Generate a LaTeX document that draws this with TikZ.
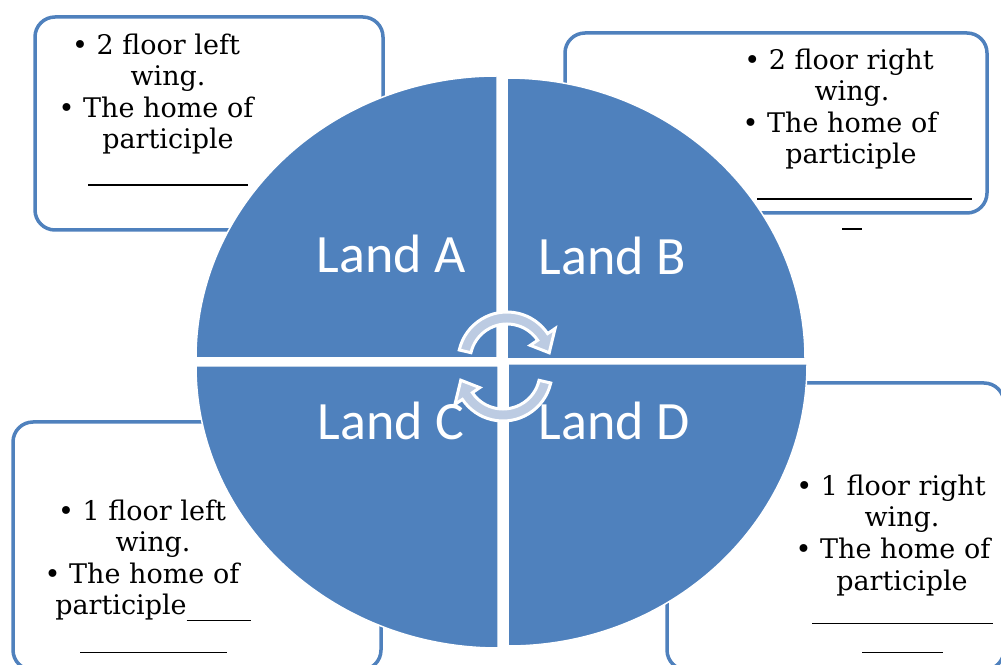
\documentclass[tikz,border=0pt]{standalone}
\usepackage{fontspec}
\setmainfont{DejaVu Serif}
\newfontfamily\landfont{Carlito}
\definecolor{qblue}{HTML}{4F81BD}
\definecolor{arrfill}{HTML}{BCCBE2}
\begin{document}
\begin{tikzpicture}[x=1pt,y=1pt,
  infobox/.style={draw=qblue, line width=3.5pt, fill=white, rounded corners=20pt},
  quad/.style={fill=qblue, draw=white, line width=1.5pt},
  landlbl/.style={font=\landfont\fontsize{54}{64}\selectfont, text=white, anchor=base, inner sep=0pt},
  txt/.style={font=\fontsize{27}{31}\selectfont, anchor=base, inner sep=0pt},
  cyc/.style={fill=arrfill, draw=white, line width=3pt, line join=miter}]
\fill[white] (0,0) rectangle (1001,664);
\useasboundingbox (0,0) rectangle (1001,664);
% boxes
\draw[infobox] (35,434) rectangle (383,647);
\draw[infobox] (565,451) rectangle (987,631);
\draw[infobox] (13,-6) rectangle (381,242);
\draw[infobox] (667,-6) rectangle (1004,281);
% box texts
\node[txt] (tl1) at (156,609) {• 2 floor left};
\node[txt] (tl2) at (168,578) {wing.};
\node[txt] (tl3) at (156,546) {• The home of};
\node[txt] (tl4) at (168,515) {participle};
\node[txt] (tl5) at (168,478) {\rule{160pt}{1.5pt}};
\node[txt] (tr1) at (839,594) {• 2 floor right};
\node[txt] (tr2) at (852,563) {wing.};
\node[txt] (tr3) at (840,531) {• The home of};
\node[txt] (tr4) at (851,500) {participle};
\node[txt] (tr5) at (864.5,464) {\rule{215pt}{1.5pt}};
\node[txt] (tr6) at (852,434) {\rule{20pt}{1.5pt}};
\node[txt] (bl1) at (142,143) {• 1 floor left};
\node[txt] (bl2) at (153,112) {wing.};
\node[txt] (bl3) at (142,80) {• The home of};
\node[txt] (bl4) at (153,49) {participle\rule[-6pt]{64pt}{1.5pt}};
\node[txt] (bl5) at (153.5,11) {\rule{147pt}{1.5pt}};
\node[txt] (br1) at (891,168) {• 1 floor right};
\node[txt] (br2) at (902,137) {wing.};
\node[txt] (br3) at (893,105) {• The home of};
\node[txt] (br4) at (902,74) {participle};
\node[txt] (br5) at (902.5,40) {\rule{181pt}{1.5pt}};
\node[txt] (br6) at (902.5,11) {\rule{81pt}{1.5pt}};
% quadrants
\draw[quad] (497,306) -- (196,306) arc[start angle=180, end angle=90, x radius=301, y radius=282] -- cycle;
\draw[quad] (507,305) -- (805,305) arc[start angle=0, end angle=90, x radius=298, y radius=281] -- cycle;
\draw[quad] (498,298) -- (196,298) arc[start angle=180, end angle=270, x radius=302, y radius=282] -- cycle;
\draw[quad] (508,300) -- (807,300) arc[start angle=0, end angle=-90, x radius=299, y radius=282] -- cycle;
% labels
\node[landlbl] (la) at (391,391) {Land A};
\node[landlbl] (lb) at (612,389) {Land B};
\node[landlbl] (lc) at (391,224) {Land C};
\node[landlbl] (ld) at (614,224) {Land D};
% cycle arrows
\begin{scope}[shift={(507,303)}]
\path[cyc] (167:49) arc[start angle=167, end angle=34, radius=49] -- (34:58) -- (11:43) -- (34:28) -- (34:37) arc[start angle=34, end angle=167, radius=37] -- cycle;
\end{scope}
\begin{scope}[shift={(503,292)}]
\path[cyc] (347:49) arc[start angle=347, end angle=214, radius=49] -- (214:58) -- (191:43) -- (214:28) -- (214:37) arc[start angle=214, end angle=347, radius=37] -- cycle;
\end{scope}
\end{tikzpicture}
\end{document}
